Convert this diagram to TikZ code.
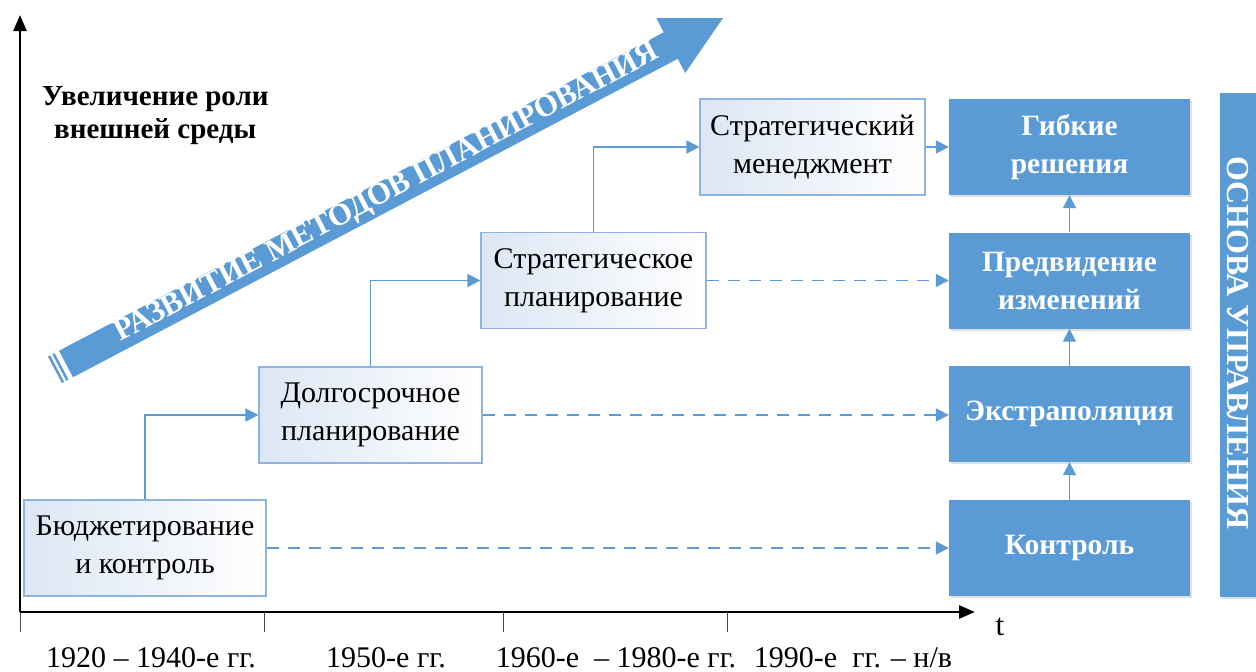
\documentclass[tikz,border=0pt]{standalone}
\usepackage{fontspec}
\setmainfont{Liberation Serif}
\usetikzlibrary{arrows.meta,calc,shadows}
\definecolor{mblue}{HTML}{5B9BD5}
\definecolor{lborder}{HTML}{8DB3E2}
\definecolor{lfill}{HTML}{DCE6F4}
\begin{document}
\begin{tikzpicture}[x=1pt,y=1pt,
  lbox/.style={draw=lborder,line width=1.2pt,left color=lfill,right color=white,
    minimum width=#1,minimum height=96pt,align=center,inner sep=0pt,
    font=\fontsize{30}{38}\selectfont},
  rbox/.style={fill=mblue,draw=none,minimum width=241pt,minimum height=96pt,align=center,inner sep=0pt,
    text=white,font=\fontsize{29.5}{38}\selectfont\bfseries,
    drop shadow={opacity=0.25,shadow xshift=2pt,shadow yshift=-2pt}},
  conn/.style={draw=mblue,line width=1.8pt,-{Triangle[length=13pt,width=13pt]}},
  dconn/.style={conn,dash pattern=on 12pt off 9pt},
  axis/.style={line width=2.8pt,-{Triangle[length=16pt,width=13pt]}},
  tick/.style={line width=0.8pt,draw=black!70},
  yr/.style={font=\fontsize{30}{32}\selectfont,anchor=base}
]
\useasboundingbox (0,-672) rectangle (1256,0);
% axes
\coordinate (O) at (20,-612);
\coordinate (Ytop) at (20,-15);
\coordinate (Xend) at (975,-612);
\coordinate (Obot) at (20,-632);
\draw[tick] (O) -- (Obot);
\draw[axis] (O) -- (Ytop);
\draw[axis] (O) -- (Xend);
\foreach \x/\n in {264/a,503/b,727/c}{
  \coordinate (t\n1) at (\x,-612);
  \coordinate (t\n2) at (\x,-632);
  \draw[tick] (t\n1) -- (t\n2);
}
\node[font=\fontsize{31}{32}\selectfont,anchor=base] (tlab) at (1000,-635) {t};
\node[yr] (y1) at (151,-667) {1920 – 1940-е гг.};
\node[yr] (y2) at (386,-667) {1950-е гг.};
\node[yr] (y3) at (616,-667) {1960-е \ – 1980-е гг.};
\node[yr] (y4) at (853,-667) {1990-е \ гг. – н/в};
% y label
\node[anchor=north west,align=left,inner sep=0pt,font=\fontsize{29}{33}\selectfont\bfseries] (ylab) at (42,-86) {Увеличение роли\\\hspace*{12pt}внешней среды};
% big arrow
\coordinate (T) at (66,-364);
\coordinate (P) at (723,-18);
\begin{scope}[shift={(T)},rotate=27.77]
  \fill[mblue] (0,-15) -- (683.5,-15) -- (683.5,-31) -- (742.5,0) -- (683.5,31) -- (683.5,15) -- (0,15) -- cycle;
  \fill[mblue] (-5,-15) rectangle (-7.5,15);
  \fill[mblue] (-10,-15) rectangle (-12.5,15);
\end{scope}
\node[rotate=27.77,text=white,font=\fontsize{31}{32}\selectfont\bfseries,inner sep=0pt] (arrtext) at ($(T)!0.49!(P)+(-0.5,1)$) {РАЗВИТИЕ МЕТОДОВ ПЛАНИРОВАНИЯ};
% left boxes
\node[lbox=242pt] (b1) at (145,-548) {Бюджетирование\\и контроль};
\node[lbox=223pt] (b2) at (370.5,-415) {Долгосрочное\\планирование};
\node[lbox=225pt] (b3) at (593.5,-280.5) {Стратегическое\\планирование};
\node[lbox=225pt] (b4) at (812.5,-147) {Стратегический\\менеджмент};
% right boxes
\node[rbox] (r4) at (1069.5,-147) {Гибкие\\решения};
\node[rbox] (r3) at (1069.5,-280.5) {Предвидение\\изменений};
\node[rbox] (r2) at (1069.5,-414) {Экстраполяция};
\node[rbox] (r1) at (1069.5,-548) {Контроль};
% vertical bar
\node[fill=mblue,minimum width=36pt,minimum height=504pt,inner sep=0pt,
  drop shadow={opacity=0.25,shadow xshift=2pt,shadow yshift=-2pt}] (bar) at (1238,-345) {};
\node[rotate=-90,text=white,font=\fontsize{32}{34}\selectfont\bfseries] (bartext) at (1238,-343) {ОСНОВА УПРАВЛЕНИЯ};
% solid connectors
\draw[conn] (b1.north) |- (b2.west);
\draw[conn] (b2.north) |- (b3.west);
\draw[conn] (b3.north) |- (b4.west);
\draw[conn] (b4.east) -- (r4.west);
% dashed connectors
\draw[dconn] (b1.east) -- (r1.west);
\draw[dconn] (b2.east) -- (b2.east -| r2.west);
\draw[dconn] (b3.east) -- (r3.west);
% vertical connectors
\draw[conn] (r1.north) -- (r2.south);
\draw[conn] (r2.north) -- (r3.south);
\draw[conn] (r3.north) -- (r4.south);
\end{tikzpicture}
\end{document}
